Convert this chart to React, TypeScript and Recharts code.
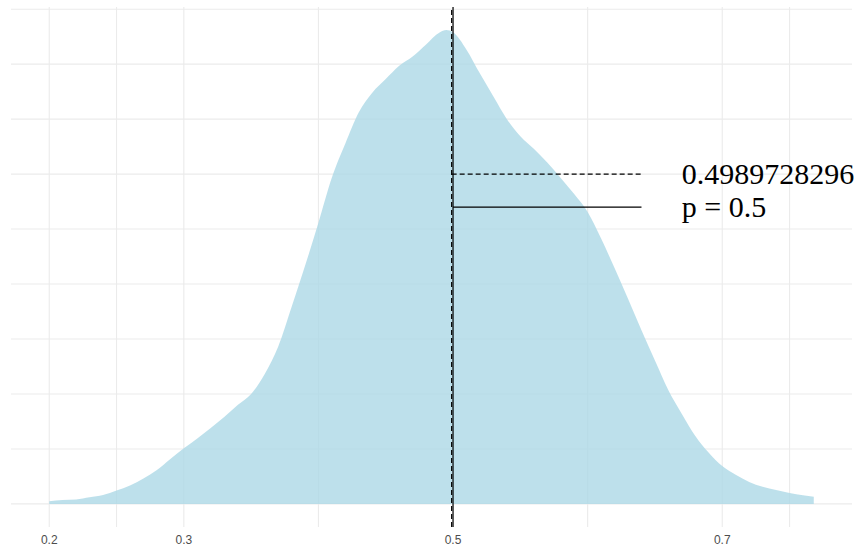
import {
  AreaChart,
  Area,
  XAxis,
  YAxis,
  CartesianGrid,
  ReferenceLine,
  ReferenceDot,
} from "recharts";

// kernel density estimate
const densX = [
  0.2, 0.21, 0.22, 0.23, 0.24, 0.25, 0.26, 0.27, 0.28, 0.29, 0.3, 0.31, 0.32, 0.33,
  0.34, 0.35, 0.36, 0.37, 0.38, 0.39, 0.4, 0.41, 0.42, 0.43, 0.44, 0.45, 0.46, 0.47,
  0.48, 0.49, 0.495, 0.5, 0.51, 0.52, 0.53, 0.54, 0.55, 0.56, 0.57, 0.58, 0.59, 0.6,
  0.61, 0.62, 0.63, 0.64, 0.65, 0.66, 0.67, 0.68, 0.69, 0.7, 0.71, 0.72, 0.73, 0.74,
  0.75, 0.76, 0.768,
];
const densY = [
  0.025, 0.036, 0.041, 0.061, 0.082, 0.123, 0.168, 0.232, 0.309, 0.409, 0.506, 0.595,
  0.691, 0.791, 0.9, 1.0, 1.18, 1.427, 1.788, 2.163, 2.558, 2.969, 3.278, 3.562, 3.741,
  3.865, 3.986, 4.07, 4.18, 4.288, 4.31, 4.29, 4.132, 3.914, 3.705, 3.5, 3.345, 3.231,
  3.105, 2.965, 2.818, 2.656, 2.414, 2.145, 1.866, 1.579, 1.304, 1.034, 0.818, 0.618,
  0.466, 0.345, 0.265, 0.2, 0.156, 0.127, 0.1, 0.079, 0.066,
];

const xTicks = [0.2, 0.25, 0.3, 0.4, 0.5, 0.6, 0.7, 0.75];
const xLabels = [0.2, 0.3, 0.5, 0.7];
const yTicks = [0, 0.5, 1, 1.5, 2, 2.5, 3, 3.5, 4, 4.5];

const xDomain: [number, number] = [0.1716, 0.7964];
const yDomain: [number, number] = [-0.21, 4.52];

const meanP = 0.4989728296;
const nullP = 0.5;
const segEnd = 0.64;
const meanY = 3;
const nullY = 2.7;
const textX = 0.67;
const meanText = "0.4989728296";
const nullText = "p = 0.5";

const data = densX.map((x, i) => ({ x, d: densY[i] }));

const serif = "'Liberation Serif', 'Times New Roman', serif";

const textLabel = (txt: string) => (props: any) => {
  const vb = props.viewBox || {};
  return (
    <text
      x={vb.x}
      y={vb.y + 10}
      fontFamily={serif}
      fontSize={30}
      fill="#000"
      textAnchor="start"
    >
      {txt}
    </text>
  );
};

// grid lines only at the break values, through the axis scales
const hLines = ({ yAxis, offset }: any) =>
  yTicks.map((t) =>
    yAxis && typeof yAxis.scale === "function"
      ? yAxis.scale(t)
      : offset.top + ((yDomain[1] - t) / (yDomain[1] - yDomain[0])) * offset.height
  );
const vLines = ({ xAxis, offset }: any) =>
  xTicks.map((t) =>
    xAxis && typeof xAxis.scale === "function"
      ? xAxis.scale(t)
      : offset.left + ((t - xDomain[0]) / (xDomain[1] - xDomain[0])) * offset.width
  );

export default function App() {
  return (
    <div style={{ position: "absolute", left: 0, top: 0, background: "#fff" }}>
      <AreaChart
        width={858}
        height={552}
        data={data}
        margin={{ top: 7, right: 6, left: 11, bottom: 0 }}
      >
        <CartesianGrid
          stroke="#EBEBEB"
          strokeWidth={1.1}
          horizontalCoordinatesGenerator={hLines}
          verticalCoordinatesGenerator={vLines}
        />
        <XAxis
          dataKey="x"
          type="number"
          domain={xDomain}
          ticks={xTicks}
          interval={0}
          allowDataOverflow
          axisLine={false}
          tickLine={false}
          height={25}
          tick={{ fill: "#4D4D4D", fontSize: 12, fontFamily: "'Liberation Sans', Arial, sans-serif" }}
          tickFormatter={(v: number) => (xLabels.includes(v) ? String(v) : "")}
        />
        <YAxis hide type="number" domain={yDomain} ticks={yTicks} allowDataOverflow />
        <Area
          type="monotone"
          dataKey="d"
          fill="#ADD8E6"
          fillOpacity={0.8}
          stroke="none"
          isAnimationActive={false}
        />
        <ReferenceLine x={meanP} stroke="#000" strokeWidth={1.2} strokeDasharray="5 3" />
        <ReferenceLine x={nullP} stroke="#000" strokeWidth={1.2} />
        <ReferenceLine
          segment={[
            { x: meanP, y: meanY },
            { x: segEnd, y: meanY },
          ]}
          stroke="#000"
          strokeWidth={1.2}
          strokeDasharray="5 3"
        />
        <ReferenceLine
          segment={[
            { x: nullP, y: nullY },
            { x: segEnd, y: nullY },
          ]}
          stroke="#000"
          strokeWidth={1.2}
        />
        <ReferenceDot
          x={textX}
          y={meanY}
          r={0}
          fill="none"
          stroke="none"
          ifOverflow="hidden"
          label={textLabel(meanText)}
        />
        <ReferenceDot
          x={textX}
          y={nullY}
          r={0}
          fill="none"
          stroke="none"
          ifOverflow="hidden"
          label={textLabel(nullText)}
        />
      </AreaChart>
    </div>
  );
}
